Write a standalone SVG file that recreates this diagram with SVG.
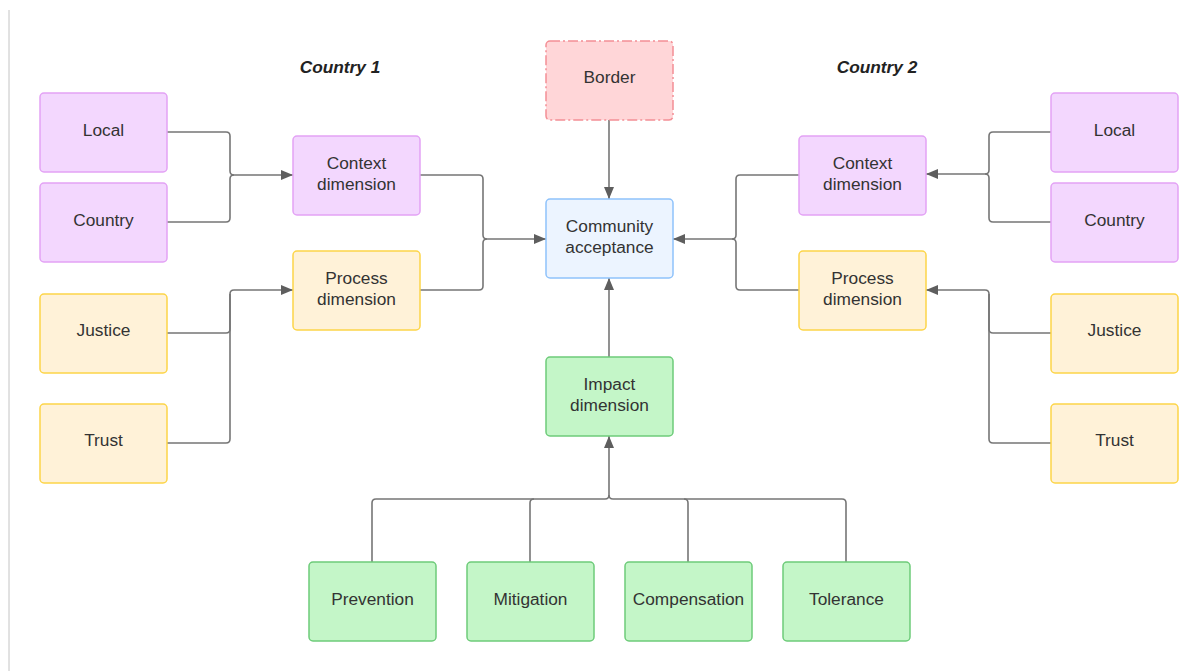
<svg xmlns="http://www.w3.org/2000/svg" width="1184" height="671" viewBox="0 0 1184 671">
<style>
.n rect{stroke-width:1.5}
.p rect{fill:#f3d7fe;stroke:#e3a2f5}
.y rect{fill:#fff2d8;stroke:#fdd548}
.g rect{fill:#c4f6c8;stroke:#6dcb79}
.b rect{fill:#ecf4ff;stroke:#8ec2fb}
.r rect{fill:#ffd6d8;stroke:#f48f95;stroke-dasharray:10 3 2 3}
.n text{font-family:"Liberation Sans",Arial,sans-serif;font-size:17.3px;fill:#333;text-anchor:middle}
.t{font-family:"Liberation Sans",Arial,sans-serif;font-size:17.3px;font-weight:bold;font-style:italic;fill:#222;text-anchor:middle}
#edges path{fill:none;stroke:#767676;stroke-width:1.6}
.a{marker-end:url(#ah)}
</style>
<defs>
<marker id="ah" viewBox="0 0 12 10" refX="12" refY="5" markerWidth="12" markerHeight="10" markerUnits="userSpaceOnUse" orient="auto">
<path d="M0,0 L12,5 L0,10 z" fill="#5e5e5e"/>
</marker>
</defs>
<rect width="1184" height="671" fill="#fff"/>
<line x1="9" y1="10" x2="9" y2="671" stroke="#c4c4c4" stroke-width="1"/>
<text class="t" x="340" y="73">Country 1</text>
<text class="t" x="877" y="73">Country 2</text>
<g id="edges">
<path d="M167,132 H226 Q230,132 230,136 V171 Q230,175 234,175 H293" class="a"/>
<path d="M167,222 H226 Q230,222 230,218 V179 Q230,175 234,175"/>
<path d="M167,333 H226 Q230,333 230,329 V294 Q230,290 234,290 H293" class="a"/>
<path d="M167,443 H226 Q230,443 230,439 V294"/>
<path d="M420,175 H479 Q483,175 483,179 V235 Q483,239 487,239 H546" class="a"/>
<path d="M420,290 H479 Q483,290 483,286 V243 Q483,239 487,239"/>
<path d="M609,120 V199" class="a"/>
<path d="M609,357 V278" class="a"/>
<path d="M372,562 V503 Q372,499 376,499 H605 Q609,499 609,495 V436" class="a"/>
<path d="M530,562 V503 Q530,499 534,499"/>
<path d="M688,562 V503 Q688,499 684,499"/>
<path d="M846,562 V503 Q846,499 842,499 H613 Q609,499 609,495"/>
<path d="M799,175 H740 Q736,175 736,179 V235 Q736,239 732,239 H673" class="a"/>
<path d="M799,290 H740 Q736,290 736,286 V243 Q736,239 732,239"/>
<path d="M1051,132 H993 Q989,132 989,136 V170 Q989,174 985,174 H926" class="a"/>
<path d="M1051,222 H993 Q989,222 989,218 V178 Q989,174 985,174"/>
<path d="M1051,333 H993 Q989,333 989,329 V294 Q989,290 985,290 H926" class="a"/>
<path d="M1051,443 H993 Q989,443 989,439 V294"/>
</g>
<g id="local1" class="n p"><rect x="40" y="93" width="127" height="79" rx="4"/><text x="103.5" y="136">Local</text></g>
<g id="country1" class="n p"><rect x="40" y="183" width="127" height="79" rx="4"/><text x="103.5" y="226">Country</text></g>
<g id="justice1" class="n y"><rect x="40" y="294" width="127" height="79" rx="4"/><text x="103.5" y="336">Justice</text></g>
<g id="trust1" class="n y"><rect x="40" y="404" width="127" height="79" rx="4"/><text x="103.5" y="446">Trust</text></g>
<g id="context1" class="n p"><rect x="293" y="136" width="127" height="79" rx="4"/><text x="356.5" y="169">Context</text><text x="356.5" y="190">dimension</text></g>
<g id="process1" class="n y"><rect x="293" y="251" width="127" height="79" rx="4"/><text x="356.5" y="284">Process</text><text x="356.5" y="305">dimension</text></g>
<g id="border" class="n r"><rect x="546" y="41" width="127" height="79" rx="4"/><text x="609.5" y="83">Border</text></g>
<g id="community" class="n b"><rect x="546" y="199" width="127" height="79" rx="4"/><text x="609.5" y="232">Community</text><text x="609.5" y="253">acceptance</text></g>
<g id="impact" class="n g"><rect x="546" y="357" width="127" height="79" rx="4"/><text x="609.5" y="390">Impact</text><text x="609.5" y="411">dimension</text></g>
<g id="context2" class="n p"><rect x="799" y="136" width="127" height="79" rx="4"/><text x="862.5" y="169">Context</text><text x="862.5" y="190">dimension</text></g>
<g id="process2" class="n y"><rect x="799" y="251" width="127" height="79" rx="4"/><text x="862.5" y="284">Process</text><text x="862.5" y="305">dimension</text></g>
<g id="local2" class="n p"><rect x="1051" y="93" width="127" height="79" rx="4"/><text x="1114.5" y="136">Local</text></g>
<g id="country2" class="n p"><rect x="1051" y="183" width="127" height="79" rx="4"/><text x="1114.5" y="226">Country</text></g>
<g id="justice2" class="n y"><rect x="1051" y="294" width="127" height="79" rx="4"/><text x="1114.5" y="336">Justice</text></g>
<g id="trust2" class="n y"><rect x="1051" y="404" width="127" height="79" rx="4"/><text x="1114.5" y="446">Trust</text></g>
<g id="prevention" class="n g"><rect x="309" y="562" width="127" height="79" rx="4"/><text x="372.5" y="605">Prevention</text></g>
<g id="mitigation" class="n g"><rect x="467" y="562" width="127" height="79" rx="4"/><text x="530.5" y="605">Mitigation</text></g>
<g id="compensation" class="n g"><rect x="625" y="562" width="127" height="79" rx="4"/><text x="688.5" y="605">Compensation</text></g>
<g id="tolerance" class="n g"><rect x="783" y="562" width="127" height="79" rx="4"/><text x="846.5" y="605">Tolerance</text></g>
</svg>
